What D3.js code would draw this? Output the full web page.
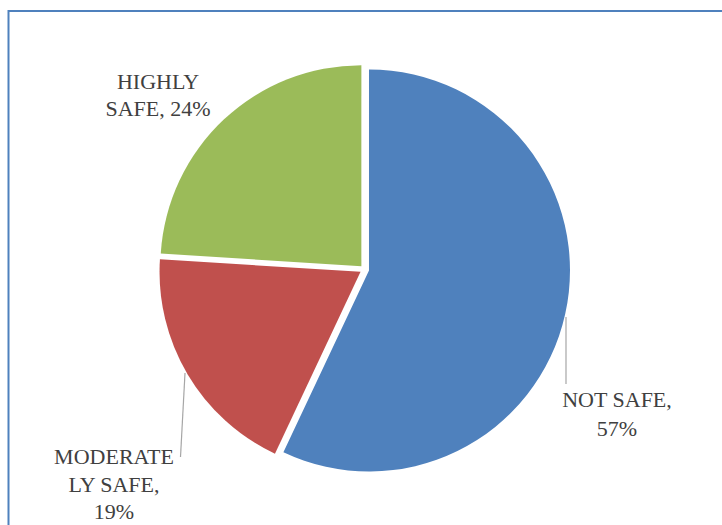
<!DOCTYPE html>
<html>
<head>
<meta charset="utf-8">
<script src="https://cdn.jsdelivr.net/npm/d3@7/dist/d3.min.js"></script>
<style>
  html, body { margin: 0; padding: 0; background: #fff; }
  svg { display: block; }
</style>
</head>
<body>
<svg id="chart" width="722" height="525"></svg>
<script>
// Safety rating shares
const categories = ["NOT SAFE", "MODERATELY SAFE", "HIGHLY SAFE"];
const values = [57, 19, 24];
const colors = ["#4f81bd", "#c0504d", "#9bbb59"];
// Data label text as wrapped in the chart
const labelLines = [
  ["NOT SAFE,", "57%"],
  ["MODERATE", "LY SAFE,", "19%"],
  ["HIGHLY", "SAFE, 24%"]
];

const svg = d3.select("#chart");

// Chart area frame (runs past the right and bottom edges)
svg.append("path")
  .attr("d", "M8.5,530 L8.5,11 L730,11")
  .attr("fill", "none")
  .attr("stroke", "#4f81bd")
  .attr("stroke-width", 2);

const cx = 364.5, cy = 269.5, radius = 201, explode = 4.6;

const pie = d3.pie().sort(null).value(d => d.value).startAngle(0).endAngle(2 * Math.PI);
const arcs = pie(categories.map((c, i) => ({ name: c, value: values[i], color: colors[i], lines: labelLines[i] })));
const arc = d3.arc().innerRadius(0).outerRadius(radius);

const g = svg.append("g").attr("transform", `translate(${cx},${cy})`);

g.selectAll("path.slice")
  .data(arcs)
  .join("path")
  .attr("class", "slice")
  .attr("transform", d => {
    const a = (d.startAngle + d.endAngle) / 2;
    return `translate(${explode * Math.sin(a)},${-explode * Math.cos(a)})`;
  })
  .attr("d", arc)
  .attr("fill", d => d.data.color);

// Label placement (absolute page coordinates) and leader lines
const labelPos = [
  { x: 617, y: 407, lh: 29 },
  { x: 114, y: 464, lh: 27.5 },
  { x: 158, y: 89, lh: 27 }
];
const leaders = [
  [[566, 317], [566, 384]],
  [[185, 373], [180.5, 457]],
  null
];

arcs.forEach((d, i) => {
  if (leaders[i]) {
    svg.append("path")
      .attr("d", d3.line()(leaders[i]))
      .attr("fill", "none")
      .attr("stroke", "#a6a6a6")
      .attr("stroke-width", 1.2);
  }
  const t = svg.append("text")
    .attr("text-anchor", "middle")
    .attr("font-family", "'Liberation Serif', 'DejaVu Serif', serif")
    .attr("font-size", 22)
    .attr("fill", "#404040");
  d.data.lines.forEach((ln, j) => {
    t.append("tspan")
      .attr("x", labelPos[i].x)
      .attr("y", labelPos[i].y + j * labelPos[i].lh)
      .text(ln);
  });
});
</script>
</body>
</html>
